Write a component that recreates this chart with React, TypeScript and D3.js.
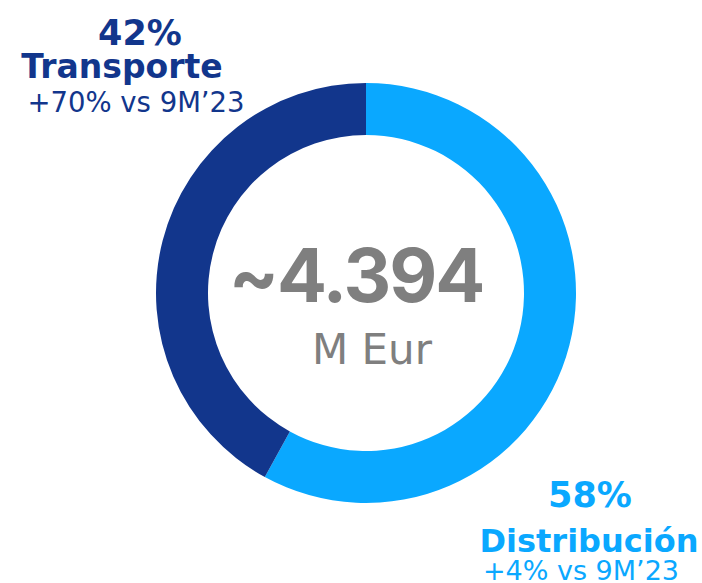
import React from "react";
import * as d3 from "d3";

const categories = ["Distribución", "Transporte"];
const shares = [58, 42];
const growthLabels = ["+4% vs 9M’23", "+70% vs 9M’23"];
const totalLabel = "~4.394";
const unitLabel = "M Eur";

const colors = ["#0aa8ff", "#12368c"];

export default function App() {
  const W = 702, H = 583;
  const cx = 366, cy = 293, rOuter = 210, rInner = 158;
  const pie = d3.pie<number>().sort(null).value((d) => d);
  const arcs = pie(shares);
  const arc = d3.arc<d3.PieArcDatum<number>>().innerRadius(rInner).outerRadius(rOuter);
  const font = "'DejaVu Sans', sans-serif";
  const centerFont = "Inter, 'DejaVu Sans', sans-serif";
  return (
    <svg width={W} height={H} style={{ position: "absolute", left: 0, top: 0 }}>
      <rect width={W} height={H} fill="#fff" />
      <g transform={`translate(${cx},${cy})`}>
        {arcs.map((a, i) => (
          <path key={i} d={arc(a) || ""} fill={colors[i]} />
        ))}
      </g>
      <text x={356} y={302} textAnchor="middle" fontFamily={centerFont} fontWeight={700} fontSize={74} letterSpacing={-2} fill="#7f7f7f">{totalLabel}</text>
      <text x={372} y={364} textAnchor="middle" fontFamily={font} fontWeight={400} fontSize={42} fill="#7f7f7f">{unitLabel}</text>

      <text x={140} y={45} textAnchor="middle" fontFamily={font} fontWeight={700} fontSize={35} fill={colors[1]}>{shares[1]}%</text>
      <text x={122} y={78} textAnchor="middle" fontFamily={font} fontWeight={700} fontSize={33} fill={colors[1]}>{categories[1]}</text>
      <text x={136} y={112} textAnchor="middle" fontFamily={font} fontWeight={400} fontSize={27.5} fill={colors[1]}>{growthLabels[1]}</text>

      <text x={590} y={507} textAnchor="middle" fontFamily={font} fontWeight={700} fontSize={35} fill={colors[0]}>{shares[0]}%</text>
      <text x={589} y={552} textAnchor="middle" fontFamily={font} fontWeight={700} fontSize={32} fill={colors[0]}>{categories[0]}</text>
      <text x={581} y={580} textAnchor="middle" fontFamily={font} fontWeight={400} fontSize={27} fill={colors[0]}>{growthLabels[0]}</text>
    </svg>
  );
}
